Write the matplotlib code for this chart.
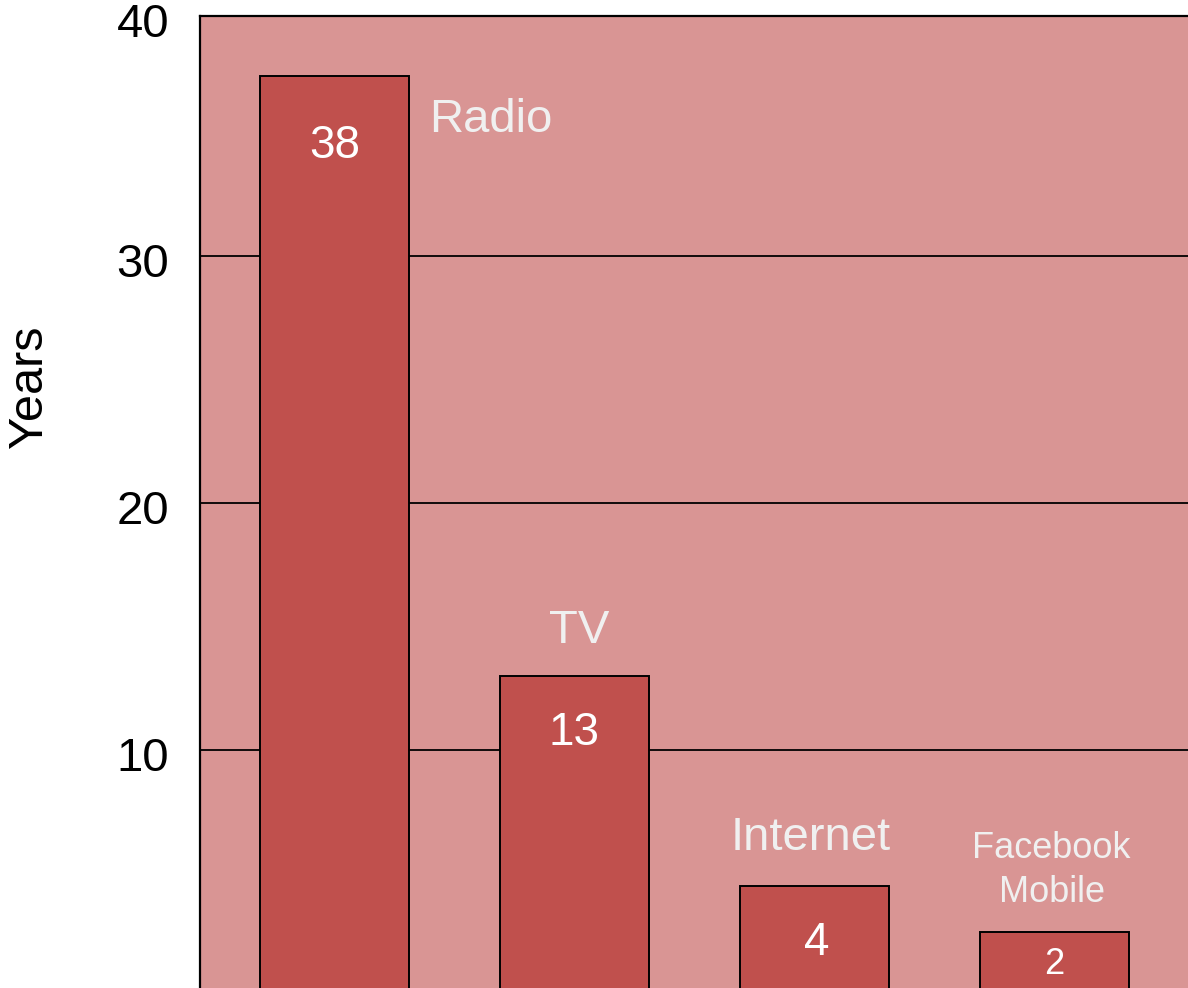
import matplotlib.pyplot as plt
import matplotlib.transforms as mtransforms

plt.rcParams['font.family'] = ['Liberation Sans', 'DejaVu Sans']

# Years to reach 50 million users
media = ["Radio", "TV", "Internet", "Facebook\nMobile"]
years = [37.3, 13.0, 4.5, 2.65]
value_labels = ["38", "13", "4", "2"]
yticks = [10, 20, 30, 40]
y_top = 39.72

bg = "#D99594"
bar_color = "#C0504D"
name_color = "#F0F0F0"

fig = plt.figure(figsize=(11.88, 9.88), dpi=100)
# axes run past the figure edge at bottom and right, as in the reference crop
ax = fig.add_axes([200 / 1188, -9 / 988, 998.5 / 1188, 981 / 988])
ax.set_facecolor(bg)

x = list(range(len(media)))
ax.bar(x, years, width=0.62, color=bar_color, edgecolor="black", linewidth=1.4, zorder=3)

ax.set_xlim(-0.5604, 3.6)
ax.set_ylim(0, y_top)
ax.set_yticks([min(t, y_top) for t in yticks])
ax.set_yticklabels([str(t) for t in yticks], fontsize=34)
ax.tick_params(axis="y", length=0, pad=22)
offset = mtransforms.ScaledTranslation(0, -3 / 72, fig.dpi_scale_trans)
for lab in ax.get_yticklabels():
    lab.set_transform(lab.get_transform() + offset)
ax.set_xticks([])
ax.yaxis.grid(True, color="black", linewidth=1.3, zorder=1)
ax.set_axisbelow(True)
for side in ["right", "bottom"]:
    ax.spines[side].set_visible(False)
ax.spines["top"].set_linewidth(1.6)
ax.spines["left"].set_linewidth(1.6)

ax.set_ylabel("Years", fontsize=35)
ax.yaxis.set_label_coords(-0.148, 0.622)

# category names (baseline positions)
name_pos = [(0.652, 35.02), (1.019, 14.33), (1.985, 5.95), (2.988, 3.85)]
name_size = [34, 34, 34, 26]
for name, (px, py), fs in zip(media, name_pos, name_size):
    ax.text(px, py, name, color=name_color, fontsize=fs, ha="center", va="baseline",
            linespacing=1.32, zorder=4)

# value labels inside bars
val_pos = [(0.0, 33.97), (0.998, 10.20), (2.01, 1.70), (2.998, 0.93)]
val_size = [33, 33, 33, 26]
for lab, (px, py), fs in zip(value_labels, val_pos, val_size):
    ax.text(px, py, lab, color="white", fontsize=fs, ha="center", va="baseline", zorder=4)

fig.savefig("out.png", dpi=100)
